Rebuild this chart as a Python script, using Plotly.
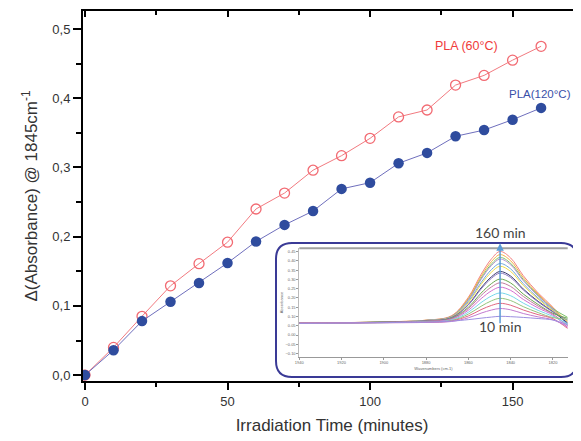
import plotly.graph_objects as go

# ---------------- main data ----------------
time_min = [0, 10, 20, 30, 40, 50, 60, 70, 80, 90, 100, 110, 120, 130, 140, 150, 160]
pla_60 = [0.0, 0.040, 0.085, 0.129, 0.161, 0.192, 0.240, 0.263, 0.296, 0.317, 0.342, 0.373,
          0.383, 0.419, 0.433, 0.455, 0.475]
pla_120 = [0.0, 0.036, 0.078, 0.106, 0.133, 0.162, 0.193, 0.217, 0.237, 0.269, 0.278, 0.306,
           0.321, 0.345, 0.354, 0.369, 0.386]

y_tick_vals = [0.0, 0.1, 0.2, 0.3, 0.4, 0.5]
y_tick_text = ["0,0", "0,1", "0,2", "0,3", "0,4", "0,5"]
x_tick_vals = [0, 50, 100, 150]

# ---------------- inset (FTIR spectra) data ----------------
wavenumber = [1940, 1900, 1880, 1868, 1860, 1854, 1849, 1845, 1840, 1834, 1827, 1820, 1813]
spec_labels = ["160", "150", "140", "130", "120", "110", "100", "90", "80", "70", "60", "50",
               "40", "30", "20", "10"]
spectra = [
    [.063, .071, .080, .104, .204, .327, .412, .451, .416, .320, .227, .150, .050],
    [.064, .071, .080, .102, .198, .316, .397, .434, .401, .309, .220, .146, .070],
    [.065, .070, .079, .100, .192, .306, .384, .419, .387, .299, .214, .143, .095],
    [.064, .070, .079, .100, .189, .300, .376, .410, .379, .293, .210, .141, .060],
    [.065, .070, .078, .097, .181, .283, .354, .386, .357, .277, .200, .136, .055],
    [.063, .070, .077, .096, .175, .273, .340, .371, .343, .267, .194, .132, .075],
    [.064, .069, .076, .093, .165, .254, .315, .343, .318, .248, .182, .126, .065],
    [.065, .069, .076, .092, .162, .248, .307, .334, .310, .243, .178, .124, .080],
    [.064, .069, .074, .089, .150, .226, .278, .302, .281, .221, .165, .117, .090],
    [.065, .068, .074, .087, .143, .213, .260, .282, .262, .208, .156, .113, .050],
    [.064, .068, .073, .084, .134, .196, .239, .258, .241, .192, .146, .107, .040],
    [.065, .067, .071, .081, .123, .175, .211, .227, .212, .172, .133, .101, .060],
    [.064, .067, .070, .078, .113, .155, .185, .198, .186, .153, .121, .094, .085],
    [.065, .067, .069, .076, .103, .137, .160, .171, .161, .135, .110, .088, .035],
    [.064, .066, .068, .073, .093, .118, .135, .143, .136, .116, .098, .082, .045],
    [.063, .067, .070, .075, .083, .091, .097, .101, .099, .095, .089, .081, .055],
]
spec_colors = ["#f28080", "#f5b041", "#7dc36b", "#b48fd0", "#6fa8dc", "#f1dc4a", "#3c3c6e",
               "#8e7cc3", "#6aa84f", "#c27ba0", "#d46fd1", "#76d7ea", "#93c47d", "#e06680",
               "#c27bd0", "#9c8fe0"]
inset_x_ticks = [1940, 1920, 1900, 1880, 1860, 1840, 1820]

FONT = "Liberation Sans, Arial, sans-serif"
OFF = 8  # page body margin of the html page

fig = go.Figure()

fig.add_trace(go.Scatter(
    x=time_min, y=pla_60, mode="lines+markers",
    line=dict(color="#f27a80", width=1),
    marker=dict(symbol="circle-open", size=10, color="#f26a72", line=dict(width=1.3)),
    showlegend=False, xaxis="x", yaxis="y"))
fig.add_trace(go.Scatter(
    x=time_min, y=pla_120, mode="lines+markers",
    line=dict(color="#6f6fbd", width=1),
    marker=dict(symbol="circle", size=10.5, color="#2f4c9e"),
    showlegend=False, xaxis="x", yaxis="y"))

# dummy trace for mirrored frame axes
fig.add_trace(go.Scatter(x=[None], y=[None], xaxis="x2", yaxis="y2", showlegend=False,
                         hoverinfo="skip"))

for lab, vals, col in zip(spec_labels, spectra, spec_colors):
    fig.add_trace(go.Scatter(x=wavenumber, y=vals, mode="lines", line=dict(color=col, width=1),
                             line_shape="spline", name=lab, showlegend=False,
                             xaxis="x3", yaxis="y3"))

XR = [-0.7, 174]
YR = [-0.0085, 0.526]

# plot area in window pixels: x 83..581, y 11..381
PL, PR, PT, PB = 83, 581, 11, 381
PW, PH = PR - PL, PB - PT


def px(x):
    return (x - PL) / PW


def py(y):
    return (PB - y) / PH


# inset rounded frame (paper coordinates)
x0, x1 = px(276), px(577)
y0, y1 = py(377), py(243)
rx, ry = 16 / PW, 16 / PH
path = (f"M {x0+rx},{y0} L {x1-rx},{y0} Q {x1},{y0} {x1},{y0+ry} "
        f"L {x1},{y1-ry} Q {x1},{y1} {x1-rx},{y1} L {x0+rx},{y1} Q {x0},{y1} {x0},{y1-ry} "
        f"L {x0},{y0+ry} Q {x0},{y0} {x0+rx},{y0} Z")

W, H = 581 - OFF, 441 - OFF

fig.update_layout(
    template="none",
    width=W, height=H,
    margin=dict(l=PL - OFF, r=W - (PR - OFF), t=PT - OFF, b=H - (PB - OFF), autoexpand=False),
    paper_bgcolor="white", plot_bgcolor="white",
    font=dict(family=FONT, color="#333333"),
    xaxis=dict(range=XR, tickvals=x_tick_vals, ticks="outside", ticklen=7, tickwidth=1.5,
               tickcolor="black", showline=True, linecolor="black", linewidth=2,
               showgrid=False, zeroline=False, tickfont=dict(size=13, color="#333"),
               automargin=False,
               minor=dict(tickvals=[25, 75, 125], ticks="outside", ticklen=4, tickwidth=1.5,
                          tickcolor="black"),
               title=dict(text="Irradiation Time (minutes)", font=dict(size=17, color="#333"),
                          standoff=12)),
    yaxis=dict(range=YR, tickvals=y_tick_vals, ticktext=y_tick_text, ticks="outside",
               ticklen=8, tickwidth=1.5, tickcolor="black", showline=True, linecolor="black",
               linewidth=2, showgrid=False, zeroline=False, tickfont=dict(size=13, color="#333"),
               automargin=False,
               minor=dict(tickvals=[0.05, 0.15, 0.25, 0.35, 0.45], ticks="outside", ticklen=5,
                          tickwidth=1.5, tickcolor="black"),
               title=dict(text="Δ(Absorbance) @ 1845cm<sup>-1</sup>",
                          font=dict(size=17, color="#333"), standoff=10)),
    xaxis2=dict(overlaying="x", side="top", anchor="y", range=XR, tickvals=x_tick_vals,
                ticks="inside", ticklen=6, tickwidth=1.5, tickcolor="black",
                showticklabels=False, showline=True, linecolor="black", linewidth=2,
                showgrid=False, zeroline=False, automargin=False,
                minor=dict(tickvals=[25, 75, 125], ticks="inside", ticklen=4, tickwidth=1.5,
                           tickcolor="black")),
    yaxis2=dict(overlaying="y", side="right", anchor="x2", range=YR, tickvals=y_tick_vals,
                ticks="inside", ticklen=6, tickwidth=1.5, tickcolor="black",
                showticklabels=False, showline=True, linecolor="black", linewidth=2,
                showgrid=False, zeroline=False, automargin=False,
                minor=dict(tickvals=[0.05, 0.15, 0.25, 0.35, 0.45], ticks="inside",
                           ticklen=4, tickwidth=1.5, tickcolor="black")),
    xaxis3=dict(domain=[px(299.3), px(567.7)], anchor="y3",
                range=[1940, 1813], tickvals=inset_x_ticks, ticks="outside", ticklen=2,
                tickwidth=0.5, tickcolor="#999", showline=True, linecolor="#999",
                linewidth=0.8, showgrid=False, zeroline=False, automargin=False,
                tickfont=dict(size=4, color="#666"),
                title=dict(text="Wavenumbers (cm-1)", font=dict(size=4, color="#666"),
                           standoff=2)),
    yaxis3=dict(domain=[py(356.7), py(248.3)], anchor="x3",
                range=[-0.117, 0.468], dtick=0.05, tick0=0, tickformat=".2f",
                ticks="outside", ticklen=2, tickwidth=0.5, tickcolor="#999",
                showline=True, linecolor="#bbb", linewidth=0.8, showgrid=False,
                zeroline=False, automargin=False, tickfont=dict(size=4, color="#666"),
                title=dict(text="Absorbance", font=dict(size=4, color="#666"), standoff=2)),
    shapes=[
        dict(type="path", xref="paper", yref="paper", path=path, fillcolor="white",
             line=dict(color="#3a3a96", width=2), layer="below"),
        dict(type="line", xref="x3 domain", yref="y3 domain", x0=0, x1=1, y0=1, y1=1,
             line=dict(color="#a0a0a0", width=2)),
    ],
    annotations=[
        dict(text="PLA (60°C)", x=133.7, y=0.475, xref="x", yref="y", showarrow=False,
             font=dict(size=12.5, color="#f03a3a", family=FONT)),
        dict(text="PLA(120°C)", x=159.5, y=0.4065, xref="x", yref="y", showarrow=False,
             font=dict(size=11.5, color="#3a4fa8", family=FONT)),
        dict(x=1845, y=0.495, xref="x3", yref="y3", ax=1845, ay=0.055, axref="x3",
             ayref="y3", showarrow=True, arrowhead=2, arrowsize=1, arrowwidth=1.5,
             arrowcolor="#5b9bd5", text=""),
        dict(text="160 min", x=1845, y=py(232), xref="x3", yref="paper",
             showarrow=False, font=dict(size=14, color="#444", family="Lato, sans-serif")),
        dict(text="10 min", x=1845, y=py(337), xref="x3", yref="paper",
             showarrow=False, font=dict(size=14, color="#444", family="Lato, sans-serif")),
    ],
)

fig.write_html("out.html")
